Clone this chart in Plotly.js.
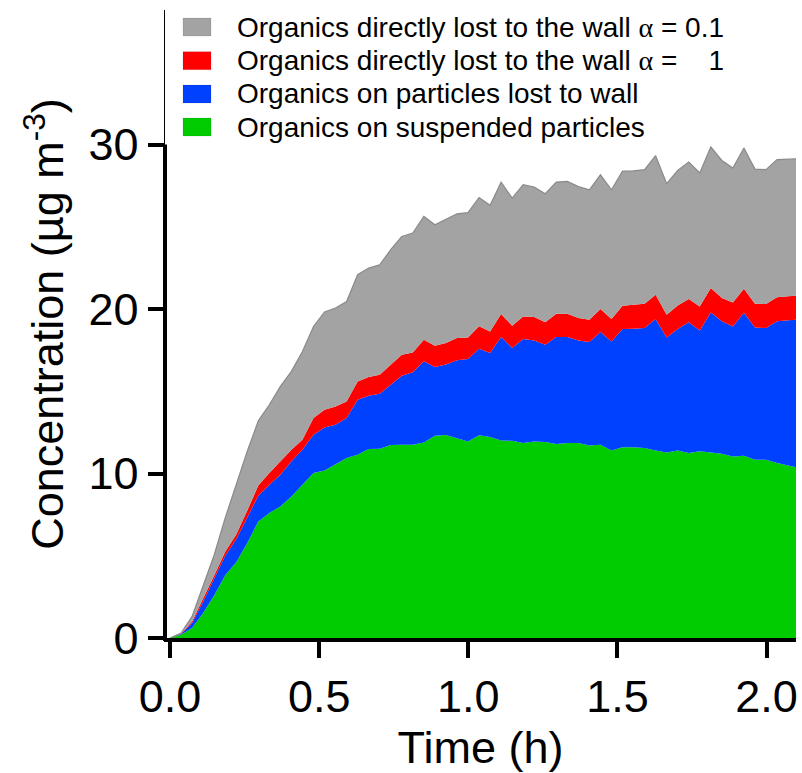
<!DOCTYPE html>
<html>
<head>
<meta charset="utf-8">
<script src="https://cdn.plot.ly/plotly-3.0.1.min.js"></script>
<style>html,body{margin:0;padding:0;background:#fff;}</style>
</head>
<body>
<div id="chart" style="width:802px;height:773px;"></div>
<script>
// Time (h)
const time = [0.000,0.037,0.074,0.111,0.148,0.185,0.222,0.259,0.296,0.333,0.370,0.407,0.444,0.481,0.518,0.555,0.592,0.629,0.666,0.703,0.740,0.777,0.814,0.851,0.888,0.925,0.962,0.999,1.036,1.073,1.110,1.147,1.184,1.221,1.258,1.295,1.332,1.369,1.406,1.443,1.480,1.517,1.554,1.591,1.628,1.665,1.702,1.739,1.776,1.813,1.850,1.887,1.924,1.961,1.998,2.035,2.072,2.109];

// Upper boundary of each stacked band (µg m-3)
const suspendedTop = [0,0.20,0.61,1.52,2.58,3.82,4.61,5.77,7.09,7.60,8.00,8.61,9.32,10.03,10.18,10.54,10.94,11.14,11.49,11.51,11.73,11.75,11.75,11.89,12.30,12.34,12.16,11.95,12.33,12.22,12.01,11.99,11.85,11.95,11.91,11.79,11.85,11.85,11.71,11.75,11.40,11.59,11.59,11.55,11.40,11.28,11.40,11.25,11.35,11.28,11.20,11.04,11.08,10.84,10.84,10.64,10.50,10.33];
const particleWallTop = [0,0.25,0.91,2.2,3.6,5.0,6.0,7.3,8.65,9.32,9.93,10.74,11.45,12.36,12.80,12.97,13.37,14.49,14.73,14.85,15.40,15.95,16.15,16.82,16.47,16.63,16.88,16.96,17.59,17.32,18.30,17.63,18.18,18.09,17.83,18.30,18.30,18.09,17.99,18.60,18.03,18.78,18.80,18.84,19.39,18.27,18.78,19.19,18.70,19.79,19.25,18.94,19.77,18.88,18.84,19.25,19.32,19.36];
const wallAlpha1Top = [0,0.27,1.0,2.35,3.8,5.25,6.3,7.75,9.27,10.03,10.74,11.45,12.05,13.37,13.88,14.08,14.38,15.60,15.87,16.01,16.61,17.22,17.36,18.13,17.77,17.93,18.24,18.27,18.96,18.64,19.70,18.98,19.55,19.51,19.19,19.71,19.71,19.45,19.35,20.00,19.39,20.20,20.26,20.32,20.87,19.65,20.22,20.61,20.16,21.28,20.67,20.40,21.23,20.32,20.30,20.71,20.78,20.82];
const wallAlpha01Top = [0,0.30,1.31,3.2,5.05,7.3,9.35,11.35,13.2,14.18,15.30,16.21,17.42,18.94,19.82,20.06,20.46,22.09,22.49,22.69,23.61,24.41,24.62,25.63,25.12,25.43,25.79,25.86,26.78,26.31,27.71,26.75,27.56,27.42,27.01,27.72,27.76,27.44,27.25,28.16,27.25,28.38,28.40,28.47,29.32,27.62,28.43,28.94,28.27,29.85,29.03,28.57,29.79,28.51,28.47,29.08,29.10,29.13];

const ALPHA = "<span style=\"font-family:'Liberation Serif','DejaVu Serif',serif\">\u03b1</span>";
const seriesNames = [
  "Organics directly lost to the wall " + ALPHA + " = 0.1",
  "Organics directly lost to the wall " + ALPHA + " =\u00a0\u00a0\u00a0\u00a01",
  "Organics on particles lost to wall",
  "Organics on suspended particles"
];
const yTickVals = [0, 10, 20, 30];
const xTickVals = [0, 0.5, 1.0, 1.5, 2.0];

const FONT = "Liberation Sans, Arial, Helvetica, sans-serif";
const colGray = "#a3a3a3", colRed = "#ff0000", colBlue = "#0040ff", colGreen = "#00cc00";

const W = 802, H = 773;
const M = {l: 165, r: 6, t: 10, b: 135};
const pw = W - M.l - M.r, ph = H - M.t - M.b;
const px2x = p => (p - M.l) / pw;
const px2y = p => (H - M.b - p) / ph;

const xRange = [-0.0168, 2.0986];
const yRange = [0, 38.18];

const traces = [
  {x: time, y: suspendedTop, type: "scatter", mode: "lines", fill: "tozeroy",
   fillcolor: colGreen, line: {width: 0, color: colGreen}, name: seriesNames[3], hoverinfo: "skip"},
  {x: time, y: particleWallTop, type: "scatter", mode: "lines", fill: "tonexty",
   fillcolor: colBlue, line: {width: 0, color: colBlue}, name: seriesNames[2], hoverinfo: "skip"},
  {x: time, y: wallAlpha1Top, type: "scatter", mode: "lines", fill: "tonexty",
   fillcolor: colRed, line: {width: 0, color: colRed}, name: seriesNames[1], hoverinfo: "skip"},
  {x: time, y: wallAlpha01Top, type: "scatter", mode: "lines", fill: "tonexty",
   fillcolor: colGray, line: {width: 1.2, color: "#8a8a8a"}, name: seriesNames[0], hoverinfo: "skip"}
];

// Legend (drawn manually to match the rectangular swatches)
const legendColors = [colGray, colRed, colBlue, colGreen];
const rowY = [27, 60.7, 94, 127];
const shapes = [];
const annotations = [];
rowY.forEach((py, i) => {
  shapes.push({type: "rect", xref: "paper", yref: "paper",
    x0: px2x(183), x1: px2x(211), y0: px2y(py + 9), y1: px2y(py - 9),
    fillcolor: legendColors[i], line: {width: 0.6, color: "rgba(0,0,0,0.15)"}});
  annotations.push({xref: "paper", yref: "paper", x: px2x(235), y: px2y(py),
    xanchor: "left", yanchor: "middle", showarrow: false, text: seriesNames[i],
    font: {family: FONT, size: 28, color: "#000"}});
});
// thick part of the y axis (0 to 30)
shapes.push({type: "line", xref: "paper", yref: "paper", x0: 0, x1: 0,
  y0: -3 / ph, y1: (30 - yRange[0]) / (yRange[1] - yRange[0]),
  line: {width: 4, color: "#000"}});

const layout = {
  width: W, height: H,
  margin: M,
  paper_bgcolor: "#fff", plot_bgcolor: "#fff",
  showlegend: false,
  font: {family: FONT, color: "#000"},
  xaxis: {
    range: xRange, tickvals: xTickVals, tickformat: ".1f",
    showgrid: false, zeroline: false,
    showline: true, linewidth: 4, linecolor: "#000",
    ticks: "outside", ticklen: 16, tickwidth: 4, tickcolor: "#000",
    tickfont: {family: FONT, size: 45, color: "#000"},
    title: {text: "Time (h)", font: {family: FONT, size: 45, color: "#000"}, standoff: 3}
  },
  yaxis: {
    range: yRange, tickvals: yTickVals,
    showgrid: false, zeroline: false,
    showline: true, linewidth: 1.5, linecolor: "#000",
    ticks: "outside", ticklen: 16, tickwidth: 4, tickcolor: "#000",
    tickfont: {family: FONT, size: 45, color: "#000"},
    title: {text: "Concentration (\u00b5g m<sup>-3</sup>)", font: {family: FONT, size: 45, color: "#000"}, standoff: 10}
  },
  shapes: shapes,
  annotations: annotations
};

Plotly.newPlot("chart", traces, layout, {displayModeBar: false, staticPlot: true});
</script>
</body>
</html>
